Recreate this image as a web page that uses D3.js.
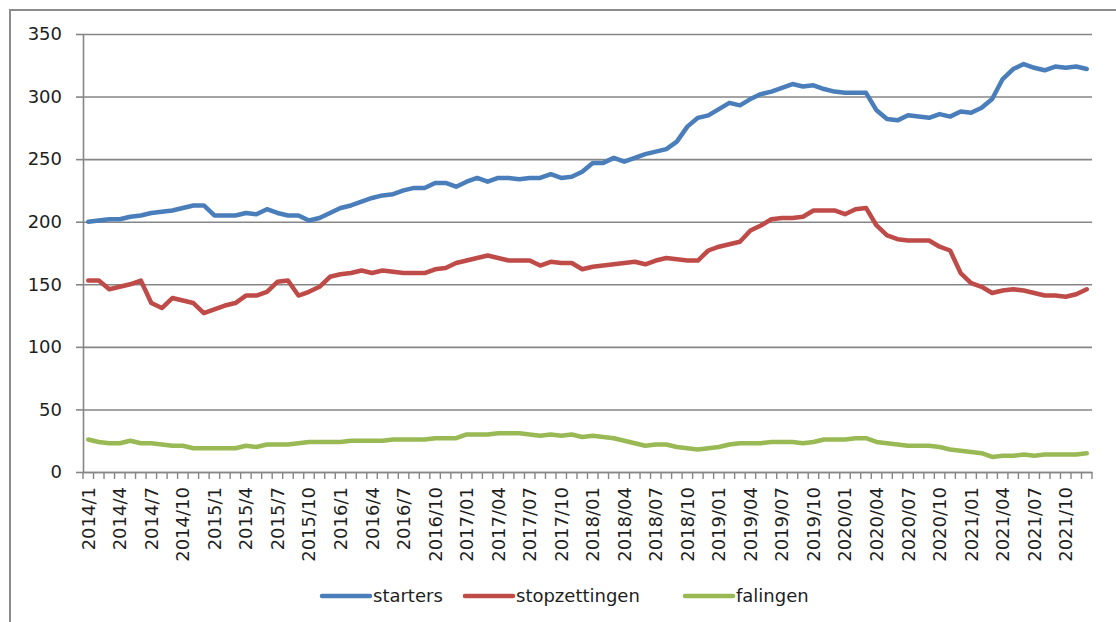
<!DOCTYPE html>
<html>
<head>
<meta charset="utf-8">
<script src="https://cdn.jsdelivr.net/npm/d3@7/dist/d3.min.js"></script>
<style>
  body { margin: 0; background: #fff; }
  svg text { font-family: "DejaVu Sans", sans-serif; font-size: 18px; fill: #1e1e1e; }
</style>
</head>
<body>
<div id="chart"></div>
<script>
// monthly series, 2014/1 .. 2021/12
var starters = [
  200, 201, 202, 202, 204, 205, 207, 208, 209, 211, 213, 213,
  205, 205, 205, 207, 206, 210, 207, 205, 205, 201, 203, 207,
  211, 213, 216, 219, 221, 222, 225, 227, 227, 231, 231, 228,
  232, 235, 232, 235, 235, 234, 235, 235, 238, 235, 236, 240,
  247, 247, 251, 248, 251, 254, 256, 258, 264, 276, 283, 285,
  290, 295, 293, 298, 302, 304, 307, 310, 308, 309, 306, 304,
  303, 303, 303, 289, 282, 281, 285, 284, 283, 286, 284, 288,
  287, 291, 298, 314, 322, 326, 323, 321, 324, 323, 324, 322
];
var stopzettingen = [
  153, 153, 146, 148, 150, 153, 135, 131, 139, 137, 135, 127,
  130, 133, 135, 141, 141, 144, 152, 153, 141, 144, 148, 156,
  158, 159, 161, 159, 161, 160, 159, 159, 159, 162, 163, 167,
  169, 171, 173, 171, 169, 169, 169, 165, 168, 167, 167, 162,
  164, 165, 166, 167, 168, 166, 169, 171, 170, 169, 169, 177,
  180, 182, 184, 193, 197, 202, 203, 203, 204, 209, 209, 209,
  206, 210, 211, 197, 189, 186, 185, 185, 185, 180, 177, 159,
  151, 148, 143, 145, 146, 145, 143, 141, 141, 140, 142, 146
];
var falingen = [
  26, 24, 23, 23, 25, 23, 23, 22, 21, 21, 19, 19,
  19, 19, 19, 21, 20, 22, 22, 22, 23, 24, 24, 24,
  24, 25, 25, 25, 25, 26, 26, 26, 26, 27, 27, 27,
  30, 30, 30, 31, 31, 31, 30, 29, 30, 29, 30, 28,
  29, 28, 27, 25, 23, 21, 22, 22, 20, 19, 18, 19,
  20, 22, 23, 23, 23, 24, 24, 24, 23, 24, 26, 26,
  26, 27, 27, 24, 23, 22, 21, 21, 21, 20, 18, 17,
  16, 15, 12, 13, 13, 14, 13, 14, 14, 14, 14, 15
];

var tickLabels = [
  "2014/1", "2014/4", "2014/7", "2014/10",
  "2015/1", "2015/4", "2015/7", "2015/10",
  "2016/1", "2016/4", "2016/7", "2016/10",
  "2017/01", "2017/04", "2017/07", "2017/10",
  "2018/01", "2018/04", "2018/07", "2018/10",
  "2019/01", "2019/04", "2019/07", "2019/10",
  "2020/01", "2020/04", "2020/07", "2020/10",
  "2021/01", "2021/04", "2021/07", "2021/10"
];
var yTicks = [0, 50, 100, 150, 200, 250, 300, 350];

var seriesNames = ["starters", "stopzettingen", "falingen"];
var seriesColors = ["#4a7ebb", "#be4b48", "#98b954"];

// month keys, same format as the axis labels (zero padded from 2017 on)
var months = [];
for (var yr = 2014; yr <= 2021; yr++) {
  for (var mo = 1; mo <= 12; mo++) {
    months.push(yr + "/" + (yr >= 2017 && mo < 10 ? "0" + mo : mo));
  }
}

var W = 1116, H = 622;
var plot = { left: 83, right: 1092, top: 34, bottom: 472 };

var svg = d3.select("#chart").append("svg")
  .attr("width", W)
  .attr("height", H);

// outer chart frame (runs off the picture right and bottom)
svg.append("rect")
  .attr("x", 10).attr("y", 10)
  .attr("width", W + 20).attr("height", H + 20)
  .attr("fill", "#fff")
  .attr("stroke", "#8c8c8c")
  .attr("stroke-width", 2);

var x = d3.scaleBand()
  .domain(months)
  .range([plot.left, plot.right])
  .padding(0);

var y = d3.scaleLinear()
  .domain([0, 350])
  .range([plot.bottom, plot.top]);

// gridlines
svg.append("g")
  .attr("transform", "translate(" + plot.left + ",0)")
  .call(d3.axisLeft(y).tickValues(yTicks).tickSize(-(plot.right - plot.left)).tickFormat(""))
  .call(function (g) {
    g.select(".domain").remove();
    g.selectAll("line").attr("stroke", "#868686").attr("stroke-width", 1.6);
  });

// y axis
svg.append("g")
  .attr("transform", "translate(" + plot.left + ",0)")
  .call(d3.axisLeft(y).tickValues(yTicks).tickSize(7).tickSizeOuter(0).tickPadding(14))
  .call(function (g) {
    g.select(".domain").attr("stroke", "#868686").attr("stroke-width", 1.6);
    g.selectAll("line").attr("stroke", "#868686").attr("stroke-width", 1.6);
    g.selectAll("text").style("font-size", "18px").attr("fill", "#1e1e1e");
  });

// x axis: tick marks between every month
var bounds = months.map(function (m) { return x(m); }).concat([plot.right]);
svg.append("g")
  .selectAll("line")
  .data(bounds)
  .enter()
  .append("line")
  .attr("x1", function (d) { return d; })
  .attr("x2", function (d) { return d; })
  .attr("y1", plot.bottom)
  .attr("y2", plot.bottom + 7)
  .attr("stroke", "#868686")
  .attr("stroke-width", 1.4);

svg.append("g")
  .attr("transform", "translate(0," + plot.bottom + ")")
  .call(d3.axisBottom(x).tickValues(tickLabels).tickSize(0).tickSizeOuter(0))
  .call(function (g) {
    g.select(".domain").attr("stroke", "#868686").attr("stroke-width", 1.6);
    g.selectAll("text")
      .style("font-size", "18px")
      .attr("fill", "#1e1e1e")
      .attr("text-anchor", "end")
      .attr("transform", "rotate(-90)")
      .attr("x", -15)
      .attr("y", 0)
      .attr("dy", "0.36em");
  });

// lines
var line = d3.line()
  .x(function (d, i) { return x(months[i]) + x.bandwidth() / 2; })
  .y(function (d) { return y(d); });

[starters, stopzettingen, falingen].forEach(function (vals, k) {
  svg.append("path")
    .datum(vals)
    .attr("d", line)
    .attr("fill", "none")
    .attr("stroke", seriesColors[k])
    .attr("stroke-width", 4.5)
    .attr("stroke-linejoin", "round")
    .attr("stroke-linecap", "round");
});

// legend
var legendX = [322, 465, 685];
var legendY = 596;
var leg = svg.append("g")
  .selectAll("g")
  .data(seriesNames)
  .enter()
  .append("g")
  .attr("transform", function (d, i) { return "translate(" + legendX[i] + "," + legendY + ")"; });

leg.append("line")
  .attr("x1", 0).attr("x2", 48)
  .attr("y1", 0).attr("y2", 0)
  .attr("stroke", function (d, i) { return seriesColors[i]; })
  .attr("stroke-width", 4.5)
  .attr("stroke-linecap", "round");

leg.append("text")
  .attr("x", 51)
  .attr("dy", "0.35em")
  .text(function (d) { return d; });
</script>
</body>
</html>
